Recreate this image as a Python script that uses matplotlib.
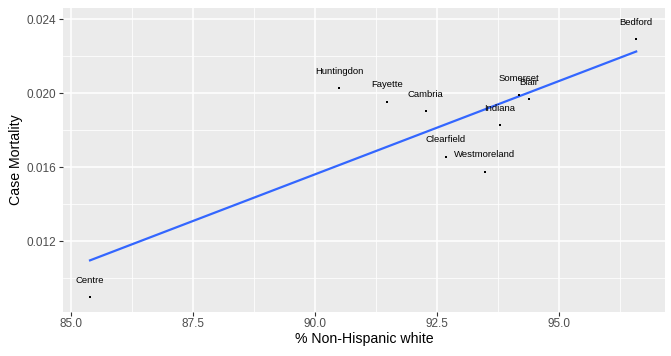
import numpy as np
import matplotlib.pyplot as plt
from matplotlib.ticker import MultipleLocator

plt.rcParams['font.family'] = ['Liberation Sans', 'DejaVu Sans']

counties = ['Bedford', 'Centre', 'Huntingdon', 'Fayette', 'Cambria',
            'Clearfield', 'Westmoreland', 'Indiana', 'Somerset', 'Blair']
pct_white = [96.58, 85.39, 90.49, 91.47, 92.27, 92.68, 93.48, 93.78, 94.17, 94.38]
case_mortality = [0.02292, 0.00901, 0.02029, 0.01954, 0.01905,
                  0.01657, 0.01576, 0.01829, 0.01991, 0.01970]

x = np.array(pct_white)
y = np.array(case_mortality)

fig = plt.figure(figsize=(6.71, 3.56), dpi=100)
ax = fig.add_axes([0.0939, 0.1244, 0.8971, 0.8531])
ax.set_facecolor('#EBEBEB')

# grid
ax.xaxis.set_major_locator(MultipleLocator(2.5))
ax.xaxis.set_minor_locator(MultipleLocator(1.25))
ax.yaxis.set_major_locator(MultipleLocator(0.004))
ax.yaxis.set_minor_locator(MultipleLocator(0.002))
ax.grid(which='major', color='white', linewidth=1.1)
ax.grid(which='minor', color='white', linewidth=0.55)
ax.set_axisbelow(True)
for s in ax.spines.values():
    s.set_visible(False)

# lm fit line
slope, intercept = np.polyfit(x, y, 1)
xs = np.linspace(x.min(), x.max(), 80)
ax.plot(xs, slope * xs + intercept, color='#3366FF', linewidth=1.6, zorder=3)

ax.scatter(x, y, s=2.5, color='black', marker='s', zorder=4, linewidths=0)
for name, xi, yi in zip(counties, x, y):
    ax.annotate(name, (xi, yi), xytext=(0, 12), textcoords='offset points',
                ha='center', va='center', fontsize=6.8, color='black', zorder=5)

ax.set_xlim(84.836, 97.17)
ax.set_ylim(0.0082, 0.024594)
ax.set_xticks([85.0, 87.5, 90.0, 92.5, 95.0])
ax.set_xticklabels(['85.0', '87.5', '90.0', '92.5', '95.0'])
ax.set_yticks([0.012, 0.016, 0.020, 0.024])
ax.set_yticklabels(['0.012', '0.016', '0.020', '0.024'])
ax.tick_params(which='major', length=3.2, color='#333333', labelcolor='#4D4D4D',
               labelsize=8.5, pad=1.5)
ax.tick_params(which='minor', length=0)

ax.set_xlabel('% Non-Hispanic white', fontsize=10.2, labelpad=1.5)
ax.set_ylabel('Case Mortality', fontsize=10.2, labelpad=2.5)

fig.savefig('out.png', dpi=100)
